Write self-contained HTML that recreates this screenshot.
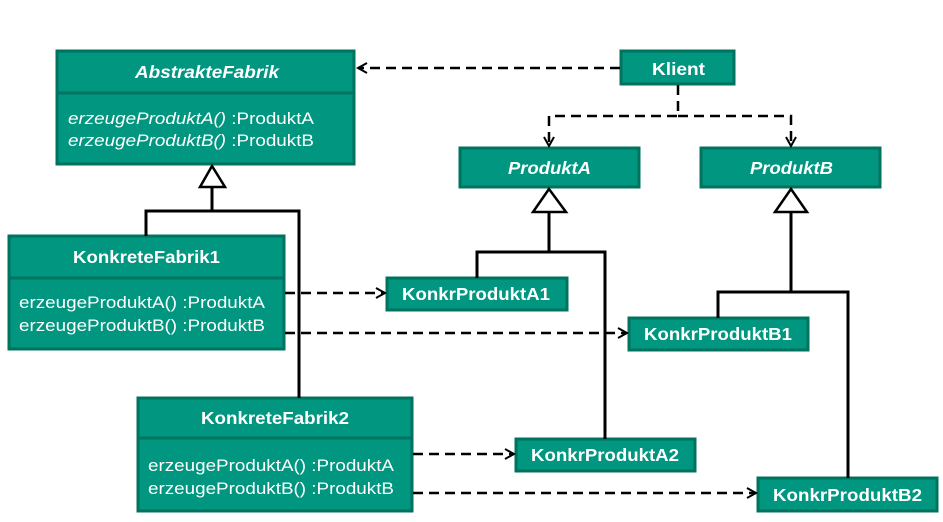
<!DOCTYPE html>
<html><head><meta charset="utf-8"><style>
html,body{margin:0;padding:0;background:#fff;width:943px;height:522px;overflow:hidden}
svg{display:block}
text{font-family:"Liberation Sans",Arial,sans-serif;fill:#fff}
.b{font-weight:bold;font-size:17.5px}
.m{font-size:17px}
</style></head><body>
<svg width="943" height="522" viewBox="0 0 943 522" xmlns="http://www.w3.org/2000/svg">
<defs>
<marker id="oa" markerWidth="12" markerHeight="12" refX="10" refY="6" orient="auto" markerUnits="userSpaceOnUse">
<path d="M1,1 L10,6 L1,11" fill="none" stroke="#000" stroke-width="2"/>
</marker>
</defs>
<g fill="#009680" stroke="#00735f" stroke-width="3">
<rect x="57" y="51" width="297" height="113"/>
<line x1="57" y1="93" x2="354" y2="93"/>
<rect x="621" y="51" width="113" height="33"/>
<rect x="460" y="148" width="179" height="39"/>
<rect x="701" y="148" width="179" height="39"/>
<rect x="9" y="236" width="275" height="113"/>
<line x1="9" y1="278" x2="284" y2="278"/>
<rect x="138" y="398" width="274" height="113"/>
<line x1="138" y1="438" x2="412" y2="438"/>
<rect x="387" y="278" width="180" height="32"/>
<rect x="629" y="318" width="179" height="32"/>
<rect x="516" y="439" width="179" height="32"/>
<rect x="758" y="478" width="179" height="33"/>
</g>
<g fill="none" stroke="#000" stroke-width="3">
<polyline points="212,187 212,211 146,211 146,236"/>
<polyline points="212,211 299,211 299,398"/>
<polyline points="549,212 549,252 477,252 477,278"/>
<polyline points="549,252 605,252 605,439"/>
<polyline points="791,212 791,292 718,292 718,318"/>
<polyline points="791,292 848,292 848,478"/>
</g>
<g fill="#fff" stroke="#000" stroke-width="2.5">
<polygon points="212,166 200,187 225,187"/>
<polygon points="549,189 533,212 566,212"/>
<polygon points="791,189 775,212 807,212"/>
</g>
<g fill="none" stroke="#000" stroke-width="2.5" stroke-dasharray="10,6">
<line x1="620" y1="68" x2="358" y2="68" marker-end="url(#oa)"/>
<polyline points="678,85 678,116 549,116 549,146" marker-end="url(#oa)"/>
<polyline points="678,116 791,116 791,146" marker-end="url(#oa)"/>
<line x1="285" y1="293" x2="385" y2="293" marker-end="url(#oa)"/>
<line x1="285" y1="333" x2="627" y2="333" marker-end="url(#oa)"/>
<line x1="413" y1="454" x2="514" y2="454" marker-end="url(#oa)"/>
<line x1="413" y1="493" x2="756" y2="493" marker-end="url(#oa)"/>
</g>
<text x="135" y="78" class="b" font-style="italic" textLength="144" lengthAdjust="spacingAndGlyphs">AbstrakteFabrik</text>
<text x="68" y="124" class="m" textLength="246" lengthAdjust="spacingAndGlyphs"><tspan font-style="italic">erzeugeProduktA()</tspan> :ProduktA</text>
<text x="68" y="146" class="m" textLength="246" lengthAdjust="spacingAndGlyphs"><tspan font-style="italic">erzeugeProduktB()</tspan> :ProduktB</text>
<text x="652" y="75" class="b" textLength="53" lengthAdjust="spacingAndGlyphs">Klient</text>
<text x="508" y="174" class="b" font-style="italic" textLength="83" lengthAdjust="spacingAndGlyphs">ProduktA</text>
<text x="750" y="174" class="b" font-style="italic" textLength="83" lengthAdjust="spacingAndGlyphs">ProduktB</text>
<text x="73" y="263" class="b" textLength="147" lengthAdjust="spacingAndGlyphs">KonkreteFabrik1</text>
<text x="19" y="308" class="m" textLength="246" lengthAdjust="spacingAndGlyphs">erzeugeProduktA() :ProduktA</text>
<text x="19" y="331" class="m" textLength="246" lengthAdjust="spacingAndGlyphs">erzeugeProduktB() :ProduktB</text>
<text x="201" y="424" class="b" textLength="148" lengthAdjust="spacingAndGlyphs">KonkreteFabrik2</text>
<text x="148" y="471" class="m" textLength="246" lengthAdjust="spacingAndGlyphs">erzeugeProduktA() :ProduktA</text>
<text x="148" y="494" class="m" textLength="246" lengthAdjust="spacingAndGlyphs">erzeugeProduktB() :ProduktB</text>
<text x="402" y="300" class="b" textLength="148" lengthAdjust="spacingAndGlyphs">KonkrProduktA1</text>
<text x="644" y="340" class="b" textLength="148" lengthAdjust="spacingAndGlyphs">KonkrProduktB1</text>
<text x="531" y="461" class="b" textLength="148" lengthAdjust="spacingAndGlyphs">KonkrProduktA2</text>
<text x="773" y="501" class="b" textLength="149" lengthAdjust="spacingAndGlyphs">KonkrProduktB2</text>
</svg>
</body></html>
